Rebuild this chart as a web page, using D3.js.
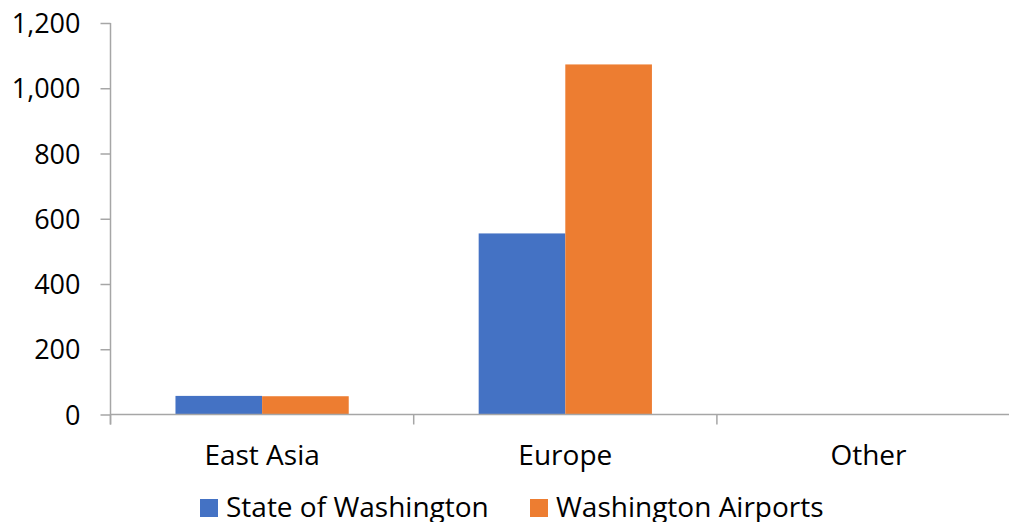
<!DOCTYPE html>
<html>
<head>
<meta charset="utf-8">
<script src="https://cdn.jsdelivr.net/npm/d3@7"></script>
<style>
  html, body { margin: 0; padding: 0; background: #fff; }
  svg { display: block; }
  text { font-family: "Open Sans", Lato, sans-serif; fill: #000; }
</style>
</head>
<body>
<svg id="chart" width="1009" height="522"></svg>
<script>
const categories = ["East Asia", "Europe", "Other"];
const seriesNames = ["State of Washington", "Washington Airports"];
const stateValues = [57, 555, 0];
const airportValues = [56, 1073, 0];
const yTicks = [0, 200, 400, 600, 800, 1000, 1200];
const colors = ["#4472c4", "#ed7d31"];

(function () {
const svg = d3.select("#chart");
const plotLeft = 110.5, plotTop = 23, zeroY = 414.5;
const bandW = 303.2;
const plotRight = plotLeft + bandW * categories.length;

const y = d3.scaleLinear().domain([0, 1200]).range([zeroY, plotTop]);
const x = d3.scaleBand().domain(categories).range([plotLeft, plotRight]).paddingInner(0).paddingOuter(0);
// Excel gap width 150%: band = 3.5 bar widths
const barW = bandW / 3.5;
const xs = d3.scaleBand().domain(seriesNames).range([0, 2 * barW]);

const fontSize = 28;
const tickFontSize = 27;
const fontFamily = "'Open Sans', Lato, sans-serif";
const axisColor = "#a6a6a6";

// bars
const data = categories.map((c, i) => ({ c, vals: [stateValues[i], airportValues[i]] }));
const g = svg.append("g");
data.forEach(d => {
  d.vals.forEach((v, j) => {
    if (v <= 0) return;
    g.append("rect")
      .attr("x", x(d.c) + (bandW - 2 * barW) / 2 + xs(seriesNames[j]))
      .attr("y", y(v))
      .attr("width", barW)
      .attr("height", zeroY - y(v))
      .attr("fill", colors[j]);
  });
});

// y axis
const yAxis = d3.axisLeft(y).tickValues(yTicks).tickSize(10).tickPadding(20).tickFormat(d3.format(","));
const yg = svg.append("g").attr("transform", `translate(${plotLeft},0)`).call(yAxis);
yg.select(".domain").remove();
yg.append("line").attr("x1", 0).attr("x2", 0).attr("y1", plotTop).attr("y2", zeroY + 10)
  .attr("stroke", axisColor).attr("stroke-width", 1.5);
yg.selectAll(".tick line").attr("stroke", axisColor).attr("stroke-width", 1.5);
yg.selectAll(".tick text").attr("font-size", tickFontSize).attr("font-family", fontFamily).attr("fill", "#000").attr("dy", "0.36em");

// x axis
const xg = svg.append("g").attr("transform", `translate(0,${zeroY})`);
xg.append("line").attr("x1", plotLeft).attr("x2", plotRight).attr("y1", 0).attr("y2", 0)
  .attr("stroke", axisColor).attr("stroke-width", 1.5);
d3.range(categories.length + 1).forEach(i => {
  const xx = plotLeft + i * bandW;
  xg.append("line").attr("x1", xx).attr("x2", xx).attr("y1", 0).attr("y2", 10)
    .attr("stroke", axisColor).attr("stroke-width", 1.5);
});
xg.selectAll("text.cat").data(categories).enter().append("text")
  .attr("class", "cat")
  .attr("x", d => x(d) + bandW / 2)
  .attr("y", 50.5)
  .attr("text-anchor", "middle")
  .attr("font-size", fontSize)
  .text(d => d);

// legend
const legendItems = [
  { name: seriesNames[0], color: colors[0], sx: 200 },
  { name: seriesNames[1], color: colors[1], sx: 530 }
];
const lg = svg.append("g");
legendItems.forEach(it => {
  lg.append("rect").attr("x", it.sx).attr("y", 499).attr("width", 18).attr("height", 18).attr("fill", it.color);
  lg.append("text").attr("x", it.sx + 26).attr("y", 517).attr("font-size", fontSize).text(it.name);
});
})();
</script>
</body>
</html>
